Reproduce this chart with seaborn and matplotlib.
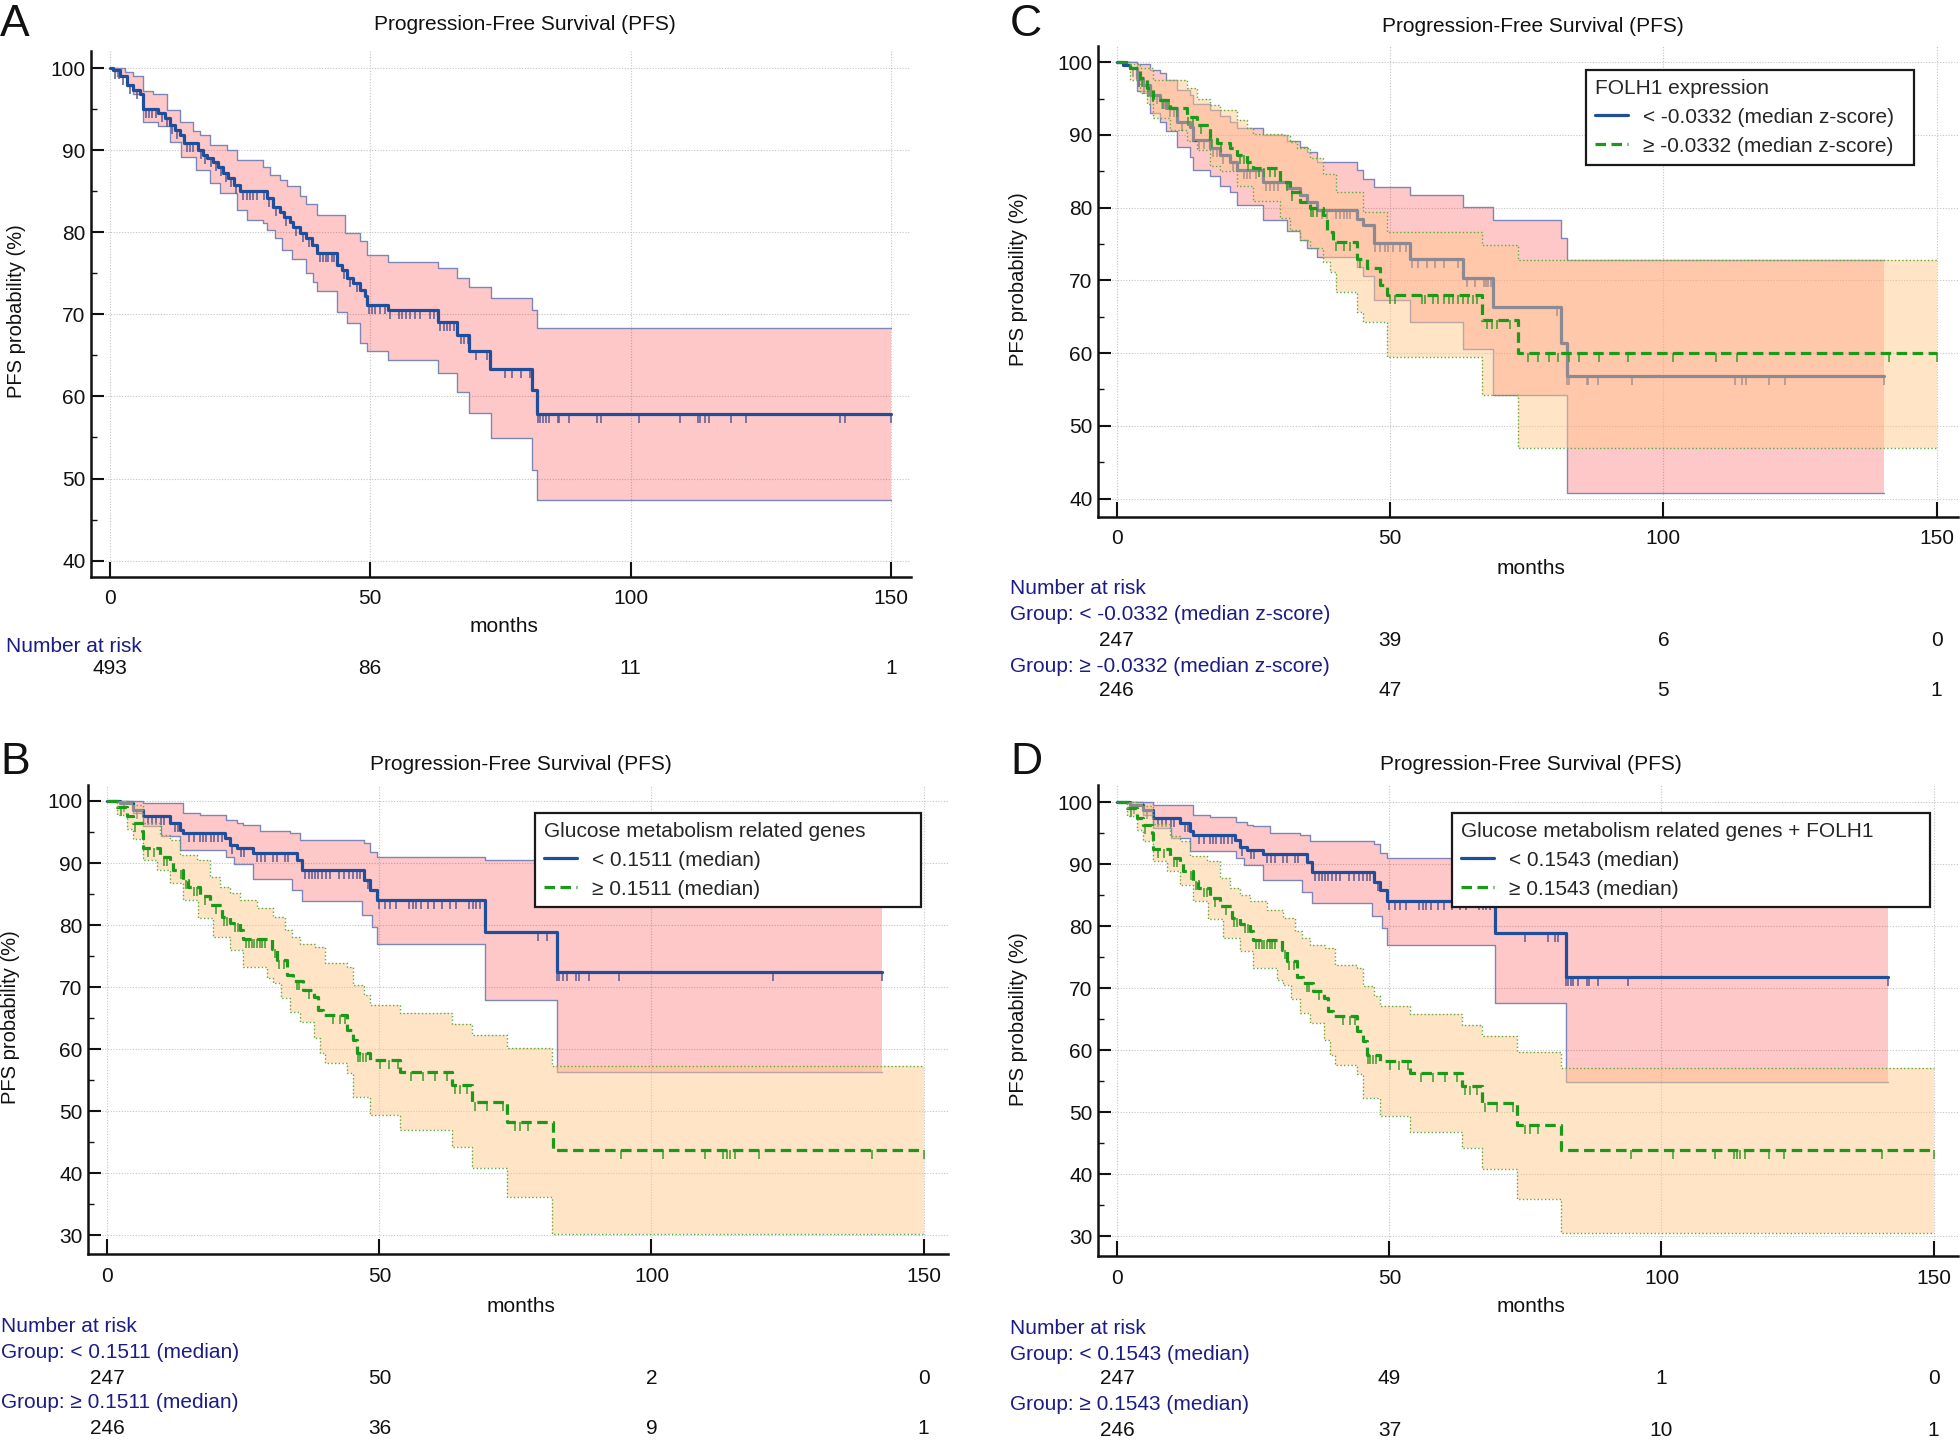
import numpy as np
import matplotlib
matplotlib.use("Agg")
import matplotlib.pyplot as plt
import matplotlib.transforms as mtransforms
from matplotlib.ticker import MultipleLocator
import seaborn as sns

# ============================ DATA ============================
x_tick_values = [0, 50, 100, 150]
yticks_AC = [40, 50, 60, 70, 80, 90, 100]
yticks_BD = [30, 40, 50, 60, 70, 80, 90, 100]

# ---------- Panel A : all patients ----------
A_est_t = [0, 0.7, 2.0, 3.3, 4.6, 5.9, 6.5, 9.4, 10.6, 11.6, 12.6, 13.5, 14.2, 17.0, 18.0,
           18.7, 19.9, 20.9, 21.8, 22.8, 23.8, 25.0, 30.2, 31.4, 32.7, 33.4, 34.6, 35.3, 36.6,
           37.8, 38.8, 39.8, 43.6, 44.6, 45.5, 46.8, 48.1, 49.0, 49.4, 53.5, 63.1, 66.6, 68.9,
           73.0, 81.0, 82.1]
A_est_v = [100, 99.8, 99.0, 98.0, 97.3, 96.9, 95.0, 94.5, 93.9, 93.1, 92.5, 91.9, 90.9, 90.0, 89.4,
           89.0, 88.6, 88.0, 87.2, 86.6, 85.8, 85.0, 84.2, 83.1, 82.5, 81.9, 81.3, 80.7, 79.9,
           79.3, 78.5, 77.5, 76.0, 75.4, 74.4, 73.8, 73.0, 72.2, 71.2, 70.5, 69.1, 67.5, 65.5,
           63.4, 60.8, 57.9]
A_up_t = [0, 3.0, 4.6, 6.5, 8.4, 11.0, 13.5, 16.1, 17.4, 19.3, 22.5, 24.4, 29.5, 30.8, 32.7,
          34.0, 36.6, 37.8, 39.8, 45.2, 48.1, 49.4, 53.5, 63.1, 66.6, 68.9, 73.3, 81.0, 82.1]
A_up_v = [100, 99.6, 99.0, 97.2, 96.8, 94.9, 93.5, 92.3, 91.9, 90.6, 90.0, 88.8, 88.0, 87.0, 86.4,
          85.6, 84.4, 83.5, 82.1, 79.9, 78.9, 77.2, 76.4, 75.6, 74.4, 73.4, 72.0, 70.5, 68.4]
A_lo_t = [0, 1.5, 3.3, 4.6, 6.5, 9.4, 11.6, 13.8, 16.6, 19.3, 21.2, 24.4, 26.3, 29.5, 30.2,
          31.8, 33.1, 35.0, 37.8, 39.1, 39.8, 43.6, 45.5, 48.1, 49.4, 53.5, 63.1, 66.6, 68.9,
          73.3, 81.0, 82.1]
A_lo_v = [100, 99.0, 97.8, 96.9, 93.5, 92.9, 91.0, 89.2, 87.6, 86.0, 84.8, 82.7, 81.5, 81.1, 80.3,
          79.3, 77.9, 76.7, 75.1, 73.9, 72.9, 70.3, 68.9, 66.5, 65.5, 64.5, 62.9, 60.6, 58.0,
          54.9, 51.1, 47.4]
A_cens = [1.0, 1.8, 2.6, 4.0, 5.2, 7.0, 7.6, 8.2, 9.0, 10.0, 11.0, 12.0, 13.0, 14.8, 15.5, 16.0,
          17.5, 18.3, 19.4, 20.4, 21.3, 22.3, 23.3, 24.2, 25.6, 26.4, 27.0, 27.6, 28.3, 29.6, 30.6,
          31.9, 33.9, 35.8, 37.2, 38.3, 40.3, 40.9, 41.5, 42.0, 42.6, 43.0, 45.0, 46.2, 47.4,
          49.7, 50.4, 51.0, 52.0, 52.9, 53.9, 55.5, 56.1, 56.8, 57.7, 58.7, 59.6, 61.5, 62.2,
          63.5, 64.2, 64.8, 65.4, 66.1, 67.4, 68.0, 68.7, 70.3, 72.5, 75.9, 77.2, 78.9, 80.6,
          82.3, 82.6, 83.1, 83.8, 84.4, 86.0, 86.3, 88.1, 93.6, 94.3, 101.7, 109.5, 113.0, 113.3,
          114.3, 115.1, 119.2, 122.2, 140.2, 141.2, 150.0]
A_end = 150.0
A_risk = [493, 86, 11, 1]

# ---------- Panel C : FOLH1 expression ----------
C1_est_t = [0, 1.2, 2.4, 3.7, 4.9, 6.1, 7.9, 9.1, 11.0, 13.4, 14.0, 17.1, 18.9, 20.7, 22.0,
            26.8, 31.1, 33.5, 34.8, 36.6, 43.9, 45.1, 47.0, 53.7, 63.4, 68.9, 81.2, 82.3]
C1_est_v = [100, 99.6, 99.2, 97.8, 96.9, 95.5, 94.8, 93.7, 91.8, 91.1, 89.3, 88.2, 87.2, 86.3, 85.2,
            83.6, 82.7, 81.7, 80.8, 79.7, 78.5, 77.6, 75.1, 73.0, 70.3, 66.4, 61.4, 56.8]
C1_up_t = [0, 3.7, 6.1, 7.9, 9.1, 11.0, 13.4, 14.0, 17.1, 18.9, 20.7, 22.0, 26.8, 31.1, 33.5,
           34.8, 36.6, 43.9, 45.1, 47.0, 53.7, 63.4, 68.9, 81.2, 82.3]
C1_up_v = [100, 99.8, 99.0, 98.5, 97.6, 96.2, 95.5, 94.3, 93.4, 92.6, 91.8, 90.9, 90.0, 89.2, 88.4,
           87.6, 86.3, 85.2, 84.0, 82.9, 81.7, 80.1, 78.3, 75.8, 72.8]
C1_lo_t = [0, 3.7, 6.1, 7.9, 9.1, 11.0, 13.4, 14.0, 17.1, 18.9, 20.7, 22.0, 26.8, 31.1, 33.5,
           34.8, 36.6, 43.9, 45.1, 47.0, 53.7, 63.4, 68.9, 82.3]
C1_lo_v = [100, 96.0, 93.0, 91.8, 90.5, 88.4, 87.0, 85.2, 84.3, 83.0, 82.2, 80.4, 78.3, 76.8, 75.6,
           74.5, 73.2, 71.8, 70.6, 67.3, 64.3, 60.6, 54.2, 40.8]
C1_cens = [3.0, 4.0, 5.0, 7.3, 8.2, 8.8, 9.8, 10.4, 12.0, 15.0, 16.0, 17.7, 18.3, 19.5, 21.2, 23.2,
           23.8, 24.4, 25.5, 27.4, 28.0, 28.7, 29.5, 32.0, 35.5, 37.5, 38.5, 40.2, 40.9, 41.5, 42.1,
           42.7, 47.3, 48.2, 49.1, 49.7, 50.6, 51.8, 53.0, 54.0, 55.2, 56.7, 58.2, 59.8, 62.5, 64.0,
           65.5, 67.1, 67.5, 68.0, 68.4, 80.5, 82.3, 82.8, 86.0, 86.3, 88.1, 94.2, 113.1, 114.3,
           115.1, 119.4, 122.2, 140.3]
C1_end = 140.3

C2_est_t = [0, 2.4, 4.3, 5.5, 6.7, 9.8, 12.8, 14.6, 17.1, 18.3, 20.7, 22.0, 23.8, 25.0, 29.9,
            31.7, 33.5, 35.4, 37.8, 38.4, 39.6, 43.9, 45.7, 48.2, 49.4, 66.8, 73.5]
C2_est_v = [100, 99.2, 97.8, 96.4, 94.8, 93.7, 92.5, 91.4, 89.5, 88.9, 88.2, 87.2, 86.3, 85.4, 83.6,
            82.2, 80.8, 79.9, 79.0, 76.7, 75.3, 73.0, 71.7, 69.4, 68.0, 64.5, 60.0]
C2_up_t = [0, 2.4, 4.3, 6.7, 12.8, 14.6, 17.1, 18.9, 22.0, 23.8, 25.0, 30.5, 31.7, 32.9, 35.4,
           37.8, 40.2, 45.1, 49.4, 66.8, 73.5]
C2_up_v = [100, 99.8, 99.2, 97.6, 96.4, 95.0, 94.1, 93.4, 92.1, 90.9, 90.2, 90.0, 89.1, 88.2, 86.8,
           84.7, 82.2, 79.4, 76.7, 74.9, 72.8]
C2_lo_t = [0, 2.4, 4.3, 5.5, 6.7, 9.8, 12.8, 14.6, 17.1, 18.9, 22.0, 25.0, 29.9, 31.7, 33.5,
           35.4, 37.8, 39.0, 40.2, 43.9, 45.1, 49.4, 66.8, 73.5]
C2_lo_v = [100, 97.5, 95.8, 94.2, 92.3, 90.7, 89.2, 87.9, 85.8, 85.0, 83.0, 80.9, 78.6, 77.0, 75.5,
           74.4, 72.6, 71.2, 68.4, 65.7, 64.3, 59.5, 54.2, 47.0]
C2_cens = [4.6, 5.8, 8.5, 9.5, 11.0, 13.0, 14.0, 15.5, 17.5, 19.0, 22.6, 23.2, 24.0, 26.0, 27.0,
           28.0, 29.0, 31.1, 32.0, 35.6, 36.0, 36.6, 40.2, 41.5, 42.7, 44.5, 50.0, 50.9, 55.8, 56.4,
           57.9, 58.8, 59.8, 60.7, 61.6, 62.5, 63.4, 64.3, 65.2, 65.9, 67.7, 68.6, 69.5, 72.0, 75.3,
           77.1, 79.0, 80.8, 82.8, 84.6, 88.3, 93.6, 101.8, 109.6, 113.4, 141.2, 150.0]
C2_end = 150.0
C_risk1 = [247, 39, 6, 0]
C_risk2 = [246, 47, 5, 1]

# ---------- Panel B : glucose metabolism related genes ----------
B1_est_t = [0, 2.3, 4.8, 6.6, 11.5, 13.4, 14.0, 21.6, 22.5, 23.8, 26.8, 34.8, 35.7, 47.1, 48.3,
            49.5, 69.4, 82.6]
B1_est_v = [100, 99.6, 98.5, 97.5, 96.4, 95.3, 94.8, 94.0, 92.9, 92.4, 91.6, 90.5, 88.9, 87.3, 85.6,
            84.0, 78.9, 72.5]
B1_up_t = [0, 6.6, 14.0, 17.0, 21.9, 23.8, 25.0, 28.1, 33.6, 35.4, 47.1, 48.3, 49.5, 69.4, 82.6]
B1_up_v = [100, 99.6, 98.0, 97.7, 96.9, 96.4, 96.1, 95.1, 94.8, 93.7, 93.2, 91.8, 91.0, 90.5, 88.0]
B1_lo_t = [0, 4.8, 6.6, 9.8, 13.4, 21.9, 23.2, 26.8, 33.9, 35.7, 46.8, 48.6, 49.5, 69.4, 82.6]
B1_lo_v = [100, 98.0, 95.9, 94.3, 92.1, 91.0, 89.9, 87.5, 85.6, 83.8, 81.6, 79.7, 77.0, 67.9, 56.3]
B1_cens = [3.0, 5.5, 7.5, 8.3, 9.0, 9.8, 10.5, 12.5, 13.0, 15.0, 16.0, 17.0, 17.6, 18.2, 19.0, 19.6,
           20.3, 21.0, 23.0, 24.5, 25.2, 27.5, 28.2, 29.0, 30.5, 31.2, 32.6, 33.2, 36.3, 37.0, 37.6,
           38.2, 38.8, 39.5, 40.2, 41.0, 42.5, 43.5, 44.5, 45.2, 45.8, 46.4, 48.0, 50.0, 51.0, 52.0,
           53.0, 55.5, 56.1, 56.8, 57.6, 59.0, 60.0, 61.5, 63.0, 64.0, 66.5, 67.2, 67.8, 68.5, 79.2,
           80.8, 82.6, 83.1, 83.7, 84.4, 86.2, 86.6, 88.6, 94.0, 122.4, 142.3]
B1_end = 142.3

B2_est_t = [0, 1.7, 3.6, 4.8, 6.3, 6.6, 9.7, 11.5, 12.1, 14.0, 14.9, 17.0, 18.9, 21.0, 22.5,
            24.4, 25.0, 30.2, 31.1, 33.0, 34.2, 36.0, 37.9, 38.8, 39.7, 44.0, 45.2, 45.8, 48.3,
            53.8, 63.3, 67.0, 73.4, 81.9]
B2_est_v = [100, 99.1, 97.5, 96.4, 95.1, 92.4, 91.0, 90.2, 88.9, 87.3, 86.2, 84.6, 83.2, 81.3, 80.3,
            79.2, 77.8, 76.2, 74.4, 71.9, 70.9, 69.5, 68.4, 66.3, 65.5, 63.1, 61.5, 59.3, 58.3,
            56.3, 54.2, 51.5, 48.3, 43.7]
B2_up_t = [0, 3.6, 4.8, 6.6, 9.7, 11.5, 13.4, 16.4, 18.9, 20.7, 22.5, 24.4, 27.5, 30.5, 32.7,
           33.9, 35.4, 38.2, 40.0, 44.0, 45.2, 47.1, 48.3, 53.8, 63.3, 67.0, 73.4, 81.7]
B2_up_v = [100, 99.8, 99.4, 96.5, 94.5, 93.7, 91.3, 90.5, 87.8, 86.2, 85.1, 84.0, 82.7, 81.3, 79.2,
           78.1, 77.0, 76.5, 73.8, 73.3, 70.3, 68.7, 67.1, 65.8, 64.1, 62.3, 60.1, 57.3]
B2_lo_t = [0, 1.7, 3.6, 4.8, 6.6, 9.1, 11.5, 14.0, 16.7, 19.5, 22.5, 25.0, 29.3, 30.5, 32.0,
           33.6, 35.4, 37.9, 39.1, 40.0, 44.0, 45.2, 48.3, 53.8, 63.3, 67.0, 73.4, 81.7]
B2_lo_v = [100, 97.8, 95.5, 93.8, 90.5, 88.9, 86.7, 84.0, 81.1, 78.1, 76.0, 73.3, 71.4, 70.6, 68.2,
           66.0, 64.4, 61.7, 59.3, 57.7, 56.1, 52.3, 49.4, 46.9, 44.2, 40.8, 36.2, 30.2]
B2_cens = [2.5, 5.0, 7.5, 8.5, 10.5, 11.0, 13.5, 14.5, 16.0, 16.5, 18.0, 20.0, 21.5, 22.0, 23.5,
           24.0, 25.5, 26.0, 26.5, 27.0, 27.5, 28.0, 28.5, 29.0, 30.8, 31.5, 32.5, 34.8, 35.2, 37.0,
           41.5, 42.8, 43.7, 46.0, 46.5, 47.0, 47.5, 50.1, 51.7, 53.5, 55.9, 58.1, 60.2, 62.4, 63.9,
           64.8, 66.1, 67.6, 69.7, 72.8, 74.9, 75.9, 77.4, 94.4, 102.1, 109.9, 113.2, 113.8, 114.4,
           115.4, 119.7, 140.5, 150.0]
B2_end = 150.0
B_risk1 = [247, 50, 2, 0]
B_risk2 = [246, 36, 9, 1]

# ---------- Panel D : glucose metabolism related genes + FOLH1 ----------
D1_est_t = [0, 2.3, 4.8, 6.6, 11.5, 13.4, 14.0, 21.6, 22.5, 23.8, 26.8, 34.8, 35.7, 47.1, 48.3,
            49.5, 69.4, 82.5]
D1_est_v = [100, 99.6, 98.7, 97.4, 96.6, 95.3, 94.7, 93.9, 92.8, 92.3, 91.6, 90.4, 88.8, 87.2, 85.9,
            84.0, 78.9, 71.8]
D1_up_t = [0, 6.6, 14.0, 17.0, 21.9, 23.8, 25.0, 28.1, 33.6, 35.4, 47.1, 48.3, 49.5, 69.4, 82.5]
D1_up_v = [100, 99.6, 98.0, 97.7, 96.9, 96.4, 96.1, 95.1, 94.8, 93.7, 93.2, 91.8, 91.0, 90.5, 88.0]
D1_lo_t = [0, 4.8, 6.6, 9.8, 13.4, 21.9, 23.2, 26.8, 33.9, 35.7, 46.8, 48.6, 49.5, 69.4, 82.5]
D1_lo_v = [100, 98.0, 95.9, 94.3, 92.1, 91.0, 89.9, 87.5, 85.6, 83.8, 81.6, 79.7, 77.0, 67.6, 54.9]
D1_cens = [3.0, 5.5, 7.5, 8.3, 9.0, 9.8, 10.5, 12.5, 13.0, 15.0, 16.0, 17.0, 17.6, 18.2, 19.0, 19.6,
           20.3, 21.0, 23.0, 24.5, 25.2, 27.5, 28.2, 29.0, 30.5, 31.2, 32.6, 33.2, 36.3, 37.0, 37.6,
           38.2, 38.8, 39.5, 40.2, 41.0, 42.5, 43.5, 44.5, 45.2, 45.8, 46.4, 48.0, 50.0, 51.0, 52.0,
           53.0, 55.5, 56.1, 56.8, 57.6, 59.0, 60.0, 61.5, 63.0, 64.0, 66.5, 67.2, 67.8, 68.5, 74.9,
           79.2, 80.5, 80.9, 82.5, 82.9, 83.3, 83.8, 84.7, 86.3, 86.6, 88.4, 93.9, 141.7]
D1_end = 141.7

D2_est_t = [0, 1.7, 3.6, 4.8, 6.3, 6.6, 9.7, 11.5, 12.1, 14.0, 14.9, 17.0, 18.9, 21.0, 22.5,
            24.4, 25.0, 30.2, 31.1, 33.0, 34.2, 36.0, 37.9, 38.8, 39.7, 44.0, 45.2, 45.8, 48.3,
            53.8, 63.3, 67.0, 73.4, 81.5]
D2_est_v = [100, 99.1, 97.5, 96.4, 95.1, 92.4, 91.0, 90.2, 88.9, 87.3, 86.2, 84.6, 83.2, 81.3, 80.3,
            79.2, 77.8, 76.2, 74.4, 71.9, 70.9, 69.5, 68.4, 66.3, 65.5, 63.1, 61.5, 59.3, 58.3,
            56.3, 54.2, 51.5, 48.0, 43.9]
D2_up_t = [0, 3.6, 4.8, 6.6, 9.7, 11.5, 13.4, 16.4, 18.9, 20.7, 22.5, 24.4, 27.5, 30.5, 32.7,
           33.9, 35.4, 38.2, 40.0, 44.0, 45.2, 47.1, 48.3, 53.8, 63.3, 67.0, 73.4, 81.5]
D2_up_v = [100, 99.8, 99.4, 96.5, 94.5, 93.7, 91.3, 90.5, 87.8, 86.2, 85.1, 84.0, 82.7, 81.3, 79.2,
           78.1, 77.0, 76.5, 73.8, 73.3, 70.3, 68.7, 67.1, 65.8, 64.1, 62.3, 59.8, 57.2]
D2_lo_t = [0, 1.7, 3.6, 4.8, 6.6, 9.1, 11.5, 14.0, 16.7, 19.5, 22.5, 25.0, 29.3, 30.5, 32.0,
           33.6, 35.4, 37.9, 39.1, 40.0, 44.0, 45.2, 48.3, 53.8, 63.3, 67.0, 73.4, 81.5]
D2_lo_v = [100, 97.8, 95.5, 93.8, 90.5, 88.9, 86.7, 84.0, 81.1, 78.1, 76.0, 73.3, 71.4, 70.6, 68.2,
           66.0, 64.4, 61.7, 59.3, 57.7, 56.1, 52.3, 49.4, 46.9, 44.2, 40.8, 36.0, 30.6]
D2_cens = [2.5, 5.0, 7.5, 8.5, 10.5, 11.0, 13.5, 14.5, 16.0, 16.5, 18.0, 20.0, 21.5, 22.0, 23.5,
           24.0, 25.5, 26.0, 26.5, 27.0, 27.5, 28.0, 28.5, 29.0, 30.8, 31.5, 32.5, 34.8, 35.2, 37.0,
           41.5, 42.8, 43.7, 46.0, 46.5, 47.0, 47.5, 50.1, 51.7, 53.5, 55.9, 58.1, 60.2, 62.4, 63.9,
           64.8, 66.1, 67.6, 69.7, 72.8, 74.9, 75.9, 77.4, 94.4, 102.1, 109.9, 113.4, 113.9, 114.4,
           115.3, 119.7, 122.6, 140.5, 150.0]
D2_end = 150.0
D_risk1 = [247, 49, 1, 0]
D_risk2 = [246, 37, 10, 1]

# ---------- Text ----------
title_text = "Progression-Free Survival (PFS)"
ylabel_text = "PFS probability (%)"
xlabel_text = "months"
risk_title = "Number at risk"
C_legend_title = "FOLH1 expression"
C_labels = ["< -0.0332 (median z-score)", "\u2265 -0.0332 (median z-score)"]
B_legend_title = "Glucose metabolism related genes"
B_labels = ["< 0.1511 (median)", "\u2265 0.1511 (median)"]
D_legend_title = "Glucose metabolism related genes + FOLH1"
D_labels = ["< 0.1543 (median)", "\u2265 0.1543 (median)"]

for a, b in [(A_est_t, A_est_v), (A_up_t, A_up_v), (A_lo_t, A_lo_v),
             (C1_est_t, C1_est_v), (C1_up_t, C1_up_v), (C1_lo_t, C1_lo_v),
             (C2_est_t, C2_est_v), (C2_up_t, C2_up_v), (C2_lo_t, C2_lo_v),
             (B1_est_t, B1_est_v), (B1_up_t, B1_up_v), (B1_lo_t, B1_lo_v),
             (B2_est_t, B2_est_v), (B2_up_t, B2_up_v), (B2_lo_t, B2_lo_v),
             (D1_est_t, D1_est_v), (D1_up_t, D1_up_v), (D1_lo_t, D1_lo_v),
             (D2_est_t, D2_est_v), (D2_up_t, D2_up_v), (D2_lo_t, D2_lo_v)]:
    assert len(a) == len(b), (len(a), len(b), a[:3])

# ============================ STYLE ============================
sns.set_theme(style="white")
plt.rcParams["font.family"] = ["Liberation Sans", "DejaVu Sans"]
plt.rcParams["axes.unicode_minus"] = False

W, H = 1960, 1440
FS = 15
BLUE = "#1F4E9A"
GREEN = "#1A9A1A"
NAVY = "#1C1C86"
TICK_MARK = [(0, 0), (0, -1)]

fig = plt.figure(figsize=(W / 100, H / 100), dpi=100)
fig.patch.set_facecolor("white")


def add_axes_px(L, T, R, B):
    return fig.add_axes([L / W, 1 - B / H, (R - L) / W, (B - T) / H])


def ftext(x, y, s, **kw):
    return fig.text(x / W, 1 - y / H, s, **kw)


def step_eval(kt, kv, q):
    kt = np.asarray(kt, float)
    kv = np.asarray(kv, float)
    idx = np.searchsorted(kt, np.asarray(q, float), side="right") - 1
    return kv[np.clip(idx, 0, len(kv) - 1)]


def step_line(ax, t, v, end, **kw):
    tt = np.append(np.asarray(t, float), end)
    vv = np.append(np.asarray(v, float), v[-1])
    n0 = len(ax.lines)
    sns.lineplot(x=tt, y=vv, ax=ax, drawstyle="steps-post", estimator=None,
                 sort=False, legend=False, **kw)
    return ax.lines[n0]


def draw_group(ax, est_t, est_v, up_t, up_v, lo_t, lo_v, cens, end, second, z0):
    grid = np.unique(np.concatenate([np.asarray(up_t, float), np.asarray(lo_t, float), [end]]))
    hi = step_eval(up_t, up_v, grid)
    lo = step_eval(lo_t, lo_v, grid)
    if second:
        fcol, falpha, ecol, els, lcol, tcol = "#FFC88B", 0.49, "#5DAA40", ":", GREEN, "#3E9A2A"
    else:
        fcol, falpha, ecol, els, lcol, tcol = "#FF0000", 0.215, "#7C86B8", "-", BLUE, "#5C5A90"
    ax.fill_between(grid, lo, hi, step="post", color=fcol, alpha=falpha, lw=0, zorder=z0)
    step_line(ax, up_t, up_v, end, color=ecol, linewidth=1.0, linestyle=els, zorder=z0 + 0.1)
    step_line(ax, lo_t, lo_v, end, color=ecol, linewidth=1.0, linestyle=els, zorder=z0 + 0.1)
    line = step_line(ax, est_t, est_v, end, color=lcol, linewidth=2.3, zorder=z0 + 0.3)
    if second:
        line.set_dashes([3.3, 1.7])
    cy = step_eval(est_t, est_v, cens)
    ax.plot(cens, cy, linestyle="none", marker=TICK_MARK, markersize=13,
            markeredgewidth=1.1, markeredgecolor=tcol, zorder=z0 + 0.2)
    return line


def style_axes(ax, xlim, ylim, yticks):
    ax.set_xlim(*xlim)
    ax.set_ylim(*ylim)
    ax.set_xticks(x_tick_values)
    ax.set_yticks(yticks)
    ax.yaxis.set_minor_locator(MultipleLocator(5))
    ax.tick_params(axis="x", which="major", direction="in", length=11, width=1.5,
                   pad=9, labelsize=FS, colors="#111111", bottom=True)
    ax.tick_params(axis="y", which="major", direction="in", length=9, width=1.5,
                   pad=4, labelsize=FS, colors="#111111", left=True)
    ax.tick_params(axis="y", which="minor", direction="in", length=4, width=1.0,
                   colors="#111111", left=True)
    for s in ["top", "right"]:
        ax.spines[s].set_visible(False)
    for s in ["left", "bottom"]:
        ax.spines[s].set_linewidth(1.8)
        ax.spines[s].set_color("#111111")
    ax.grid(True, which="major", color="#c4c4c4", linewidth=0.8, linestyle=(0, (1, 1.5)))
    ax.set_axisbelow(True)
    ax.set_facecolor("white")
    ax.set_xlabel("")
    ax.set_ylabel("")


def add_legend(ax, handles, labels, title, x0, ytop, width):
    leg = ax.legend(handles, labels, title=title, loc="upper left",
                    bbox_to_anchor=(x0, 0, width, ytop), mode="expand", borderaxespad=0,
                    fontsize=FS, title_fontsize=FS, alignment="left", frameon=True,
                    fancybox=False, edgecolor="#1a1a1a", framealpha=1, borderpad=0.42,
                    labelspacing=0.48, handlelength=1.6, handletextpad=0.7)
    leg.get_frame().set_linewidth(1.6)
    leg.set_zorder(20)
    return leg


def risk_numbers(ax, values, ypx):
    tr = mtransforms.blended_transform_factory(ax.transData, fig.transFigure)
    for xv, n in zip(x_tick_values, values):
        ax.text(xv, 1 - ypx / H, str(n), transform=tr, ha="center", va="center",
                fontsize=FS, color="#111111")


# ============================ PANEL A ============================
axA = add_axes_px(91, 51, 911, 577)
draw_group(axA, A_est_t, A_est_v, A_up_t, A_up_v, A_lo_t, A_lo_v, A_cens, A_end, False, 2)
style_axes(axA, (-3.55, 153.8), (38.0, 102.1), yticks_AC)
ftext(0, 25, "A", fontsize=32, ha="left", va="center", color="#111111")
ftext(525, 25, title_text, fontsize=FS, ha="center", va="center", color="#111111")
ftext(16, 311, ylabel_text, fontsize=14.5, rotation=90, ha="center", va="center", color="#111111")
ftext(504, 626, xlabel_text, fontsize=FS, ha="center", va="center", color="#111111")
ftext(6, 646, risk_title, fontsize=FS, ha="left", va="center", color=NAVY)
risk_numbers(axA, A_risk, 669)

# ============================ PANEL C ============================
axC = add_axes_px(1098, 46, 1958, 517)
lC1 = draw_group(axC, C1_est_t, C1_est_v, C1_up_t, C1_up_v, C1_lo_t, C1_lo_v, C1_cens, C1_end, False, 2)
lC2 = draw_group(axC, C2_est_t, C2_est_v, C2_up_t, C2_up_v, C2_lo_t, C2_lo_v, C2_cens, C2_end, True, 4)
style_axes(axC, (-3.42, 153.9), (37.46, 102.24), yticks_AC)
hC1 = matplotlib.lines.Line2D([], [], color=BLUE, linewidth=2.3)
add_legend(axC, [hC1, lC2], C_labels, C_legend_title, 0.5674, 0.949, 0.3814)
ftext(1010, 25, "C", fontsize=32, ha="left", va="center", color="#111111")
ftext(1533, 27, title_text, fontsize=FS, ha="center", va="center", color="#111111")
ftext(1019, 279, ylabel_text, fontsize=14.5, rotation=90, ha="center", va="center", color="#111111")
ftext(1531, 569, xlabel_text, fontsize=FS, ha="center", va="center", color="#111111")
ftext(1010, 589, risk_title, fontsize=FS, ha="left", va="center", color=NAVY)
ftext(1010, 615, "Group: " + C_labels[0], fontsize=FS, ha="left", va="center", color=NAVY)
risk_numbers(axC, C_risk1, 640)
ftext(1010, 666, "Group: " + C_labels[1], fontsize=FS, ha="left", va="center", color=NAVY)
risk_numbers(axC, C_risk2, 691)

# ============================ PANEL B ============================
axB = add_axes_px(88, 785, 948, 1254)
lB1 = draw_group(axB, B1_est_t, B1_est_v, B1_up_t, B1_up_v, B1_lo_t, B1_lo_v, B1_cens, B1_end, False, 2)
lB2 = draw_group(axB, B2_est_t, B2_est_v, B2_up_t, B2_up_v, B2_lo_t, B2_lo_v, B2_cens, B2_end, True, 4)
style_axes(axB, (-3.55, 154.5), (26.94, 102.58), yticks_BD)
add_legend(axB, [lB1, lB2], B_labels, B_legend_title, 0.5198, 0.9403, 0.449)
ftext(0, 763, "B", fontsize=32, ha="left", va="center", color="#111111")
ftext(521, 764, title_text, fontsize=FS, ha="center", va="center", color="#111111")
ftext(11, 1017, ylabel_text, fontsize=14.5, rotation=90, ha="center", va="center", color="#111111")
ftext(521, 1307, xlabel_text, fontsize=FS, ha="center", va="center", color="#111111")
ftext(1, 1327, risk_title, fontsize=FS, ha="left", va="center", color=NAVY)
ftext(1, 1352, "Group: " + B_labels[0], fontsize=FS, ha="left", va="center", color=NAVY)
risk_numbers(axB, B_risk1, 1378)
ftext(1, 1403, "Group: " + B_labels[1], fontsize=FS, ha="left", va="center", color=NAVY)
risk_numbers(axB, B_risk2, 1429)

# ============================ PANEL D ============================
axD = add_axes_px(1098, 785, 1958, 1256)
lD1 = draw_group(axD, D1_est_t, D1_est_v, D1_up_t, D1_up_v, D1_lo_t, D1_lo_v, D1_cens, D1_end, False, 2)
lD2 = draw_group(axD, D2_est_t, D2_est_v, D2_up_t, D2_up_v, D2_lo_t, D2_lo_v, D2_cens, D2_end, True, 4)
style_axes(axD, (-3.55, 154.5), (26.82, 102.79), yticks_BD)
add_legend(axD, [lD1, lD2], D_labels, D_legend_title, 0.4116, 0.9406, 0.5558)
ftext(1010, 763, "D", fontsize=32, ha="left", va="center", color="#111111")
ftext(1531, 765, title_text, fontsize=FS, ha="center", va="center", color="#111111")
ftext(1019, 1019, ylabel_text, fontsize=14.5, rotation=90, ha="center", va="center", color="#111111")
ftext(1531, 1307, xlabel_text, fontsize=FS, ha="center", va="center", color="#111111")
ftext(1010, 1328, risk_title, fontsize=FS, ha="left", va="center", color=NAVY)
ftext(1010, 1354, "Group: " + D_labels[0], fontsize=FS, ha="left", va="center", color=NAVY)
risk_numbers(axD, D_risk1, 1379)
ftext(1010, 1405, "Group: " + D_labels[1], fontsize=FS, ha="left", va="center", color=NAVY)
risk_numbers(axD, D_risk2, 1430)

fig.savefig("out.png", dpi=100, facecolor="white")
